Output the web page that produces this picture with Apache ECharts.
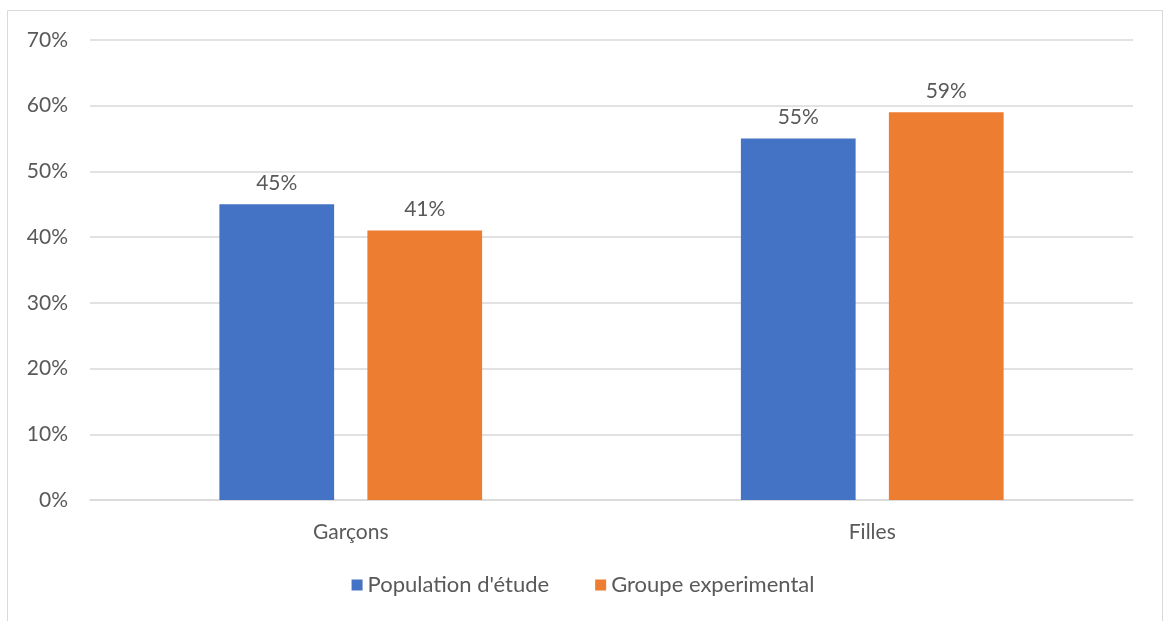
<!DOCTYPE html>
<html><head><meta charset="utf-8">
<script src="https://cdn.jsdelivr.net/npm/echarts@6/dist/echarts.min.js"></script>
<style>html,body{margin:0;padding:0;background:#fff}#c{width:1166px;height:621px}</style>
</head><body><div id="c"></div>
<script>
const categories = ['Garçons', 'Filles'];
const populationEtude = [45, 55];
const groupeExperimental = [41, 59];
const seriesNames = ["Population d'étude", 'Groupe experimental'];

const font = 'Lato, "Open Sans", sans-serif';
const txt = '#595959';
const fs = 21;
const chart = echarts.init(document.getElementById('c'));
chart.setOption({
  animation: false,
  textStyle: { fontFamily: font },
  graphic: [{ type: 'rect', shape: { x: 7.5, y: 10.5, width: 1155, height: 620 }, style: { fill: 'none', stroke: '#d9d9d9', lineWidth: 1 } }],
  grid: { left: 90, right: 33, top: 40, bottom: 121 },
  legend: {
    bottom: 20, left: 'center', itemWidth: 11, itemHeight: 11, itemGap: 46, icon: 'rect',
    textStyle: { color: txt, fontSize: 22, fontFamily: font }
  },
  xAxis: {
    type: 'category', data: categories,
    axisLine: { lineStyle: { color: '#d9d9d9', width: 1.5 } },
    axisTick: { show: false },
    axisLabel: { color: txt, fontSize: fs, margin: 22, fontFamily: font }
  },
  yAxis: {
    type: 'value', min: 0, max: 70, interval: 10,
    axisLine: { show: false }, axisTick: { show: false },
    splitLine: { lineStyle: { color: '#d9d9d9', width: 1.5 } },
    axisLabel: { color: txt, fontSize: fs, margin: 22, formatter: '{value}%', fontFamily: font }
  },
  series: [
    { name: seriesNames[0], type: 'bar', data: populationEtude, barWidth: '22%', barGap: '29%',
      itemStyle: { color: '#4472c4' },
      label: { show: true, position: 'top', distance: 11, formatter: '{c}%', color: txt, fontSize: fs, fontFamily: font } },
    { name: seriesNames[1], type: 'bar', data: groupeExperimental, barWidth: '22%',
      itemStyle: { color: '#ed7d31' },
      label: { show: true, position: 'top', distance: 11, formatter: '{c}%', color: txt, fontSize: fs, fontFamily: font } }
  ]
});
</script></body></html>
